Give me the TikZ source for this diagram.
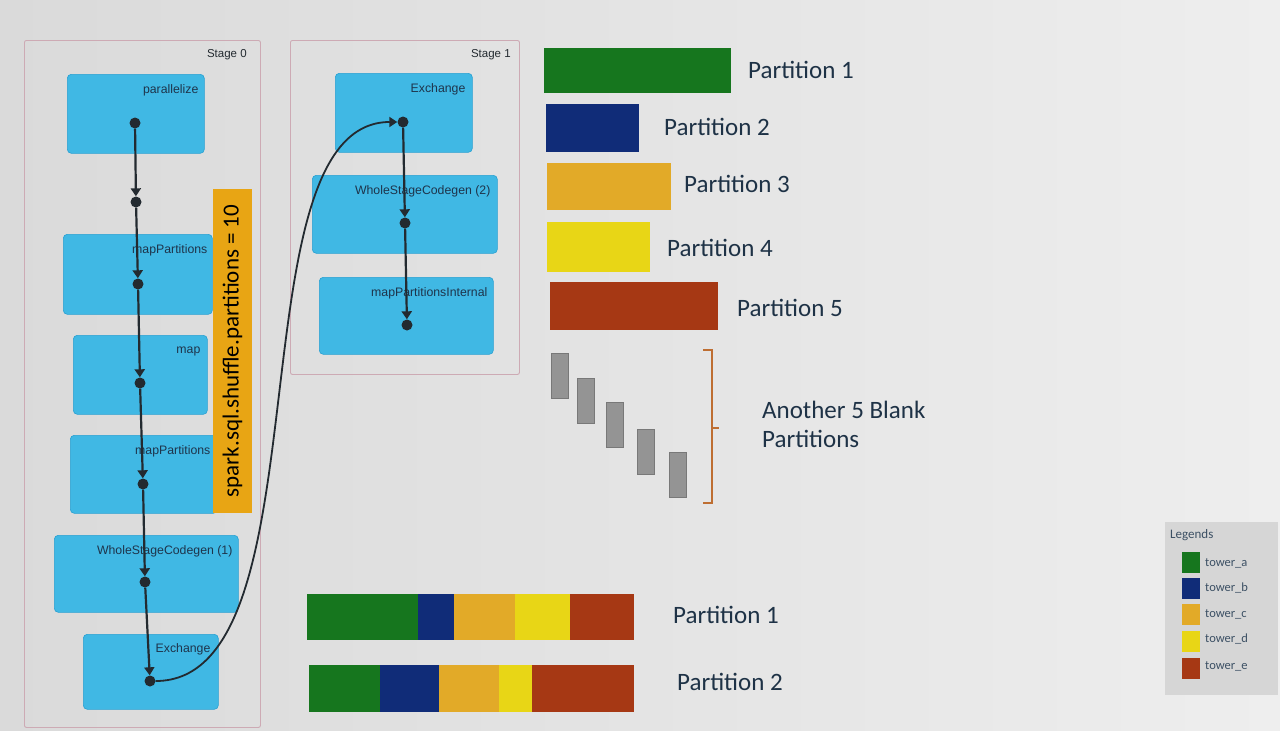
\documentclass[tikz,border=0pt]{standalone}
\usepackage{fontspec}
\setmainfont{Carlito}
\newfontfamily\arialf{Liberation Sans}
\usetikzlibrary{arrows.meta}
\definecolor{bgL}{RGB}{218,218,218}
\definecolor{bgR}{RGB}{238,238,238}
\definecolor{nodeblue}{RGB}{64,184,228}
\definecolor{nodeedge}{RGB}{40,160,210}
\definecolor{stageedge}{RGB}{205,170,180}
\definecolor{lblue}{RGB}{30,52,75}
\definecolor{flowc}{RGB}{35,42,48}
\definecolor{orangeb}{RGB}{232,165,20}
\definecolor{ta}{RGB}{22,118,30}
\definecolor{tb}{RGB}{16,44,120}
\definecolor{tc}{RGB}{226,170,40}
\definecolor{td}{RGB}{232,214,22}
\definecolor{te}{RGB}{166,56,20}
\definecolor{ptext}{RGB}{30,50,70}
\definecolor{blankg}{RGB}{148,148,148}
\definecolor{blankd}{RGB}{120,120,120}
\definecolor{bracec}{RGB}{190,110,50}
\definecolor{legendg}{RGB}{214,214,214}
\definecolor{legtext}{RGB}{60,80,100}
\tikzset{
  stagebox/.style={draw=stageedge, line width=0.9pt, rounded corners=2pt, anchor=north west, inner sep=0pt},
  opbox/.style={draw=nodeedge, fill=nodeblue, rounded corners=4pt, anchor=north west, inner sep=0pt, line width=0.6pt},
  oplabel/.style={font=\arialf\fontsize{12.3}{14}\selectfont, text=lblue, anchor=east, inner sep=0pt},
  stagelabel/.style={font=\arialf\fontsize{11.5}{13}\selectfont, text=flowc, anchor=east, inner sep=0pt},
  fdot/.style={circle, fill=flowc, inner sep=0pt, minimum size=11pt},
  flow/.style={draw=flowc, line width=2.2pt, -{Triangle[width=10pt,length=8pt]}},
  ptxt/.style={font=\fontsize{25}{29}\selectfont, text=ptext, anchor=west, inner sep=0pt},
  bar/.style={anchor=north west, inner sep=0pt, draw=none},
  blank/.style={anchor=north west, inner sep=0pt, fill=blankg, draw=blankd, line width=0.6pt, minimum width=17, minimum height=45},
  swatch/.style={anchor=north west, inner sep=0pt, minimum width=18, minimum height=21},
  legtxt/.style={font=\fontsize{12.5}{14}\selectfont, text=legtext, anchor=west, inner sep=0pt}
}
\begin{document}
\begin{tikzpicture}[x=1pt,y=-1pt]
\useasboundingbox (0,0) rectangle (1280,731);
\shade[left color=bgL, right color=bgR] (0,0) rectangle (1280,731);

% Stage boxes
\node[stagebox, minimum width=236, minimum height=687] (st0) at (24,40) {};
\node[stagebox, minimum width=229, minimum height=334] (st1) at (290,40) {};
\node[stagelabel] (st0L) at ([xshift=-14pt,yshift=-15pt]st0.north east) {Stage 0};
\node[stagelabel] (st1L) at ([xshift=-9pt,yshift=-15pt]st1.north east) {Stage 1};

% Stage 0 operators
\node[opbox, minimum width=137, minimum height=79] (par) at (67,74) {};
\node[oplabel] (parL) at ([xshift=-6pt,yshift=-16pt]par.north east) {parallelize};
\node[opbox, minimum width=149, minimum height=80] (mp1) at (63,234) {};
\node[oplabel] (mp1L) at ([xshift=-5pt,yshift=-16pt]mp1.north east) {mapPartitions};
\node[opbox, minimum width=134, minimum height=79] (map) at (73,335) {};
\node[oplabel] (mapL) at ([xshift=-7pt,yshift=-16pt]map.north east) {map};
\node[opbox, minimum width=147, minimum height=78] (mp2) at (70,435) {};
\node[oplabel] (mp2L) at ([xshift=-7pt,yshift=-16pt]mp2.north east) {mapPartitions};
\node[opbox, minimum width=184, minimum height=77] (wsc1) at (54,535) {};
\node[oplabel] (wsc1L) at ([xshift=-6pt,yshift=-16pt]wsc1.north east) {WholeStageCodegen (1)};
\node[opbox, minimum width=135, minimum height=75] (ex0) at (83,634) {};
\node[oplabel] (ex0L) at ([xshift=-8pt,yshift=-15pt]ex0.north east) {Exchange};

% Stage 1 operators
\node[opbox, minimum width=137, minimum height=79] (ex1) at (335,73) {};
\node[oplabel] (ex1L) at ([xshift=-7pt,yshift=-16pt]ex1.north east) {Exchange};
\node[opbox, minimum width=185, minimum height=78] (wsc2) at (312,175) {};
\node[oplabel] (wsc2L) at ([xshift=-7pt,yshift=-16pt]wsc2.north east) {WholeStageCodegen (2)};
\node[opbox, minimum width=174, minimum height=77] (mpi) at (319,277) {};
\node[oplabel] (mpiL) at ([xshift=-6pt,yshift=-16pt]mpi.north east) {mapPartitionsInternal};

% orange annotation
\node[fill=orangeb, rotate=90, minimum width=324, minimum height=39, inner sep=0pt,
      font=\fontsize{23}{25}\selectfont, text=black] (conf) at (232.5,351) {spark.sql.shuffle.partitions = 10};

% flow dots
\node[fdot] (a1) at (135,123) {};
\node[fdot] (a2) at (136,202) {};
\node[fdot] (a3) at (138,284) {};
\node[fdot] (a4) at (140,383) {};
\node[fdot] (a5) at (143,484) {};
\node[fdot] (a6) at (145,582) {};
\node[fdot] (a7) at (150,681) {};
\node[fdot] (b1) at (403,122) {};
\node[fdot] (b2) at (405,223) {};
\node[fdot] (b3) at (407,325) {};

\draw[flow] (a1) -- (a2);
\draw[flow] (a2) -- (a3);
\draw[flow] (a3) -- (a4);
\draw[flow] (a4) -- (a5);
\draw[flow] (a5) -- (a6);
\draw[flow] (a6) -- (a7);
\draw[flow] (b1) -- (b2);
\draw[flow] (b2) -- (b3);
\draw[flow, line width=1.8pt] (a7) .. controls (330,681) and (230,122) .. (b1);

% Top partitions
\node[bar, fill=ta, minimum width=187, minimum height=45] (p1) at (544,48) {};
\node[ptxt] (p1L) at (748,70) {Partition 1};
\node[bar, fill=tb, minimum width=93, minimum height=48] (p2) at (546,104) {};
\node[ptxt] (p2L) at (664,127) {Partition 2};
\node[bar, fill=tc, minimum width=124, minimum height=47] (p3) at (547,163) {};
\node[ptxt] (p3L) at (684,184) {Partition 3};
\node[bar, fill=td, minimum width=103, minimum height=50] (p4) at (547,222) {};
\node[ptxt] (p4L) at (667,248) {Partition 4};
\node[bar, fill=te, minimum width=168, minimum height=48] (p5) at (550,282) {};
\node[ptxt] (p5L) at (737,308) {Partition 5};

% Blank partitions
\node[blank] (k1) at (551,353) {};
\node[blank] (k2) at (577,378) {};
\node[blank] (k3) at (606,402) {};
\node[blank] (k4) at (637,429) {};
\node[blank] (k5) at (669,452) {};
\draw[bracec, line width=1.3pt] (703,350) -- (712,350) -- (712,503) -- (703,503);
\draw[bracec, line width=1.3pt] (712,428) -- (719,428);
\node[ptxt, align=left] (blankL) at (762,424) {Another 5 Blank\\Partitions};

% Bottom partitions
\fill[ta] (307,594) rectangle (418,640);
\fill[tb] (418,594) rectangle (454,640);
\fill[tc] (454,594) rectangle (515,640);
\fill[td] (515,594) rectangle (570,640);
\fill[te] (570,594) rectangle (634,640);
\node[ptxt] (q1L) at (673,615) {Partition 1};
\fill[ta] (309,665) rectangle (380,712);
\fill[tb] (380,665) rectangle (439,712);
\fill[tc] (439,665) rectangle (499,712);
\fill[td] (499,665) rectangle (532,712);
\fill[te] (532,665) rectangle (634,712);
\node[ptxt] (q2L) at (677,682) {Partition 2};

% Legend
\node[anchor=north west, fill=legendg, minimum width=113, minimum height=173, inner sep=0pt] (leg) at (1165,522) {};
\node[legtxt, font=\fontsize{13}{15}\selectfont] (legT) at (1170,535) {Legends};
\node[swatch, fill=ta] (sa) at (1182,552) {};
\node[legtxt] (saL) at (1205,563) {tower\_a};
\node[swatch, fill=tb] (sb) at (1182,578) {};
\node[legtxt] (sbL) at (1205,588) {tower\_b};
\node[swatch, fill=tc] (sc) at (1182,604) {};
\node[legtxt] (scL) at (1205,614) {tower\_c};
\node[swatch, fill=td] (sd) at (1182,631) {};
\node[legtxt] (sdL) at (1205,639) {tower\_d};
\node[swatch, fill=te] (se) at (1182,658) {};
\node[legtxt] (seL) at (1205,666) {tower\_e};
\end{tikzpicture}
\end{document}
